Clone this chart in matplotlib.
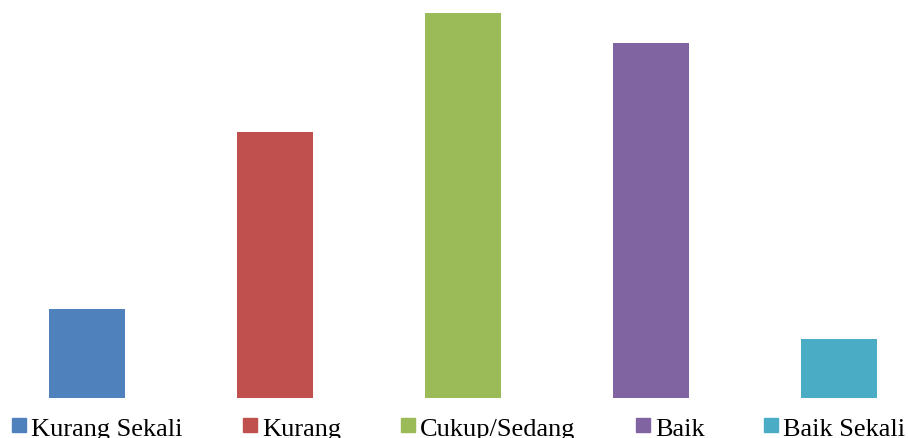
import matplotlib.pyplot as plt
from matplotlib.patches import Rectangle

categories = ['Kurang Sekali', 'Kurang', 'Cukup/Sedang', 'Baik', 'Baik Sekali']
values = [3, 9, 13, 12, 2]
colors = ['#4F81BD', '#C0504D', '#9BBB59', '#8064A2', '#4BACC6']

W, H = 908, 439
fig = plt.figure(figsize=(W / 100, H / 100), dpi=100)
ax = fig.add_axes([0, 40 / H, 1, 1 - 40 / H])
x = range(len(categories))
ax.bar(x, values, width=76 / 188, color=colors)
ax.set_xlim(-87 / 188, (W - 87) / 188)
ax.set_ylim(0, 399 / 29.6)
ax.axis('off')

# legend laid out like the original (uneven spacing)
sq_left = [12, 243, 401, 636, 764]
for name, c, px in zip(categories, colors, sq_left):
    fig.patches.append(Rectangle((px / W, (H - 433) / H), 14 / W, 14 / H,
                                 transform=fig.transFigure, color=c))
    fig.text((px + 19) / W, (H - 436) / H, name, fontsize=19,
             family='Liberation Serif', va='baseline', ha='left')

fig.savefig('out.png', dpi=100)
